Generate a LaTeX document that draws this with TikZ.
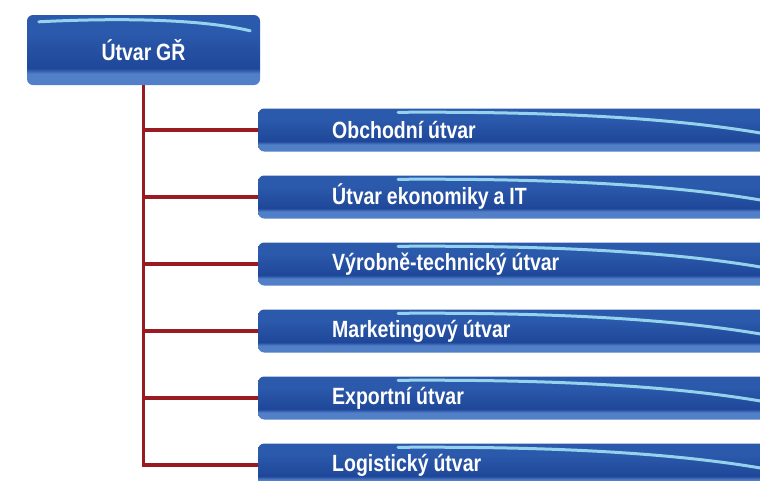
\documentclass[tikz,border=0pt]{standalone}
\usepackage{fontspec}
\usetikzlibrary{positioning, calc}
\newfontfamily\utvarfont[FakeStretch=0.83, WordSpace=0.9]{Liberation Sans}
\definecolor{utvarmain}{HTML}{2B59AB}
\definecolor{utvardeep}{HTML}{1F4799}
\definecolor{utvarband}{HTML}{5180C8}
\definecolor{utvarstreak}{HTML}{A8E8F8}
\definecolor{orgred}{HTML}{9A1A22}
\pgfdeclareverticalshading{utvarshade}{100bp}{color(0bp)=(utvarband); color(25bp)=(utvarband); color(33bp)=(utvarband); color(37bp)=(utvardeep); color(62bp)=(utvarmain); color(75bp)=(utvarmain); color(100bp)=(utvarmain)}
\tikzstyle{utvar}=[rectangle, rounded corners=6pt, shading=utvarshade, text=white, font=\utvarfont\bfseries\fontsize{23.5}{26}\selectfont]
\tikzstyle{head}=[utvar, minimum width=233pt, minimum height=70pt]
\tikzstyle{dept}=[utvar, anchor=west, minimum height=43pt, inner xsep=74pt, text width=384pt, align=flush left]
\tikzstyle{streak}=[utvarstreak, line width=3pt, opacity=0.85, line cap=round]
\tikzstyle{orgline}=[orgred, line width=3.5pt]

\begin{document}
\begin{tikzpicture}[x=1pt, y=-1pt, node distance=67pt]
    \clip (0,0) rectangle (760,480);
    \fill[white] (0,0) rectangle (760,480);
    \node[head] (gr) at (143.5,50) {Útvar GŘ};
    \node[dept] (d1) at (258,130) {Obchodní útvar};
    \node[dept, below of=d1] (d2) {Útvar ekonomiky a IT};
    \node[dept, below of=d2] (d3) {Výrobně-technický útvar};
    \node[dept, below of=d3] (d4) {Marketingový útvar};
    \node[dept, below of=d4] (d5) {Exportní útvar};
    \node[dept, below of=d5] (d6) {Logistický útvar};
    % glossy streaks
    \draw[streak] ([xshift=12pt, yshift=-7pt]gr.north west) .. controls ([xshift=90pt, yshift=-3pt]gr.north west) and ([xshift=-60pt, yshift=-4pt]gr.north east) .. ([xshift=-10pt, yshift=-16pt]gr.north east);
    \foreach \d in {d1, d2, d3, d4, d5, d6} {
        \draw[streak] ([xshift=140pt, yshift=-4pt]\d.north west) .. controls ([xshift=300pt, yshift=-3pt]\d.north west) and ([xshift=420pt, yshift=-10pt]\d.north west) .. ([xshift=510pt, yshift=-26pt]\d.north west);
    }
    % connectors
    \draw[orgline] (gr.south) |- (d6.west);
    \foreach \d in {d1, d2, d3, d4, d5} {
        \draw[orgline] (gr.south) |- (\d.west);
    }
\end{tikzpicture}
\end{document}
